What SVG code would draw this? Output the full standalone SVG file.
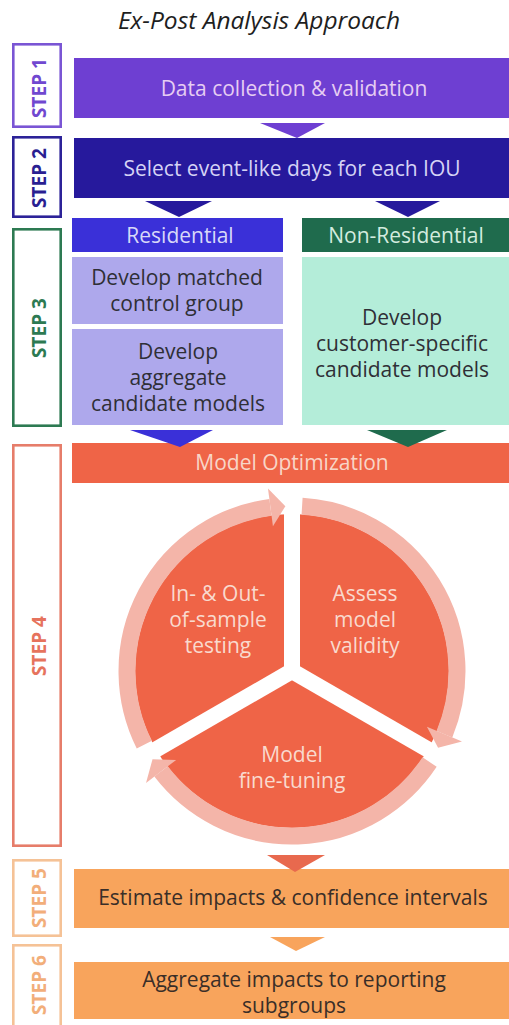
<svg xmlns="http://www.w3.org/2000/svg" width="509" height="1025" viewBox="0 0 509 1025">
<style>
text{font-family:"Open Sans","Noto Sans","DejaVu Sans",sans-serif;font-size:21px;text-anchor:middle}
.title{font-style:italic;font-size:24.5px;fill:#1e1e1e}
.lbl{fill:#fff;stroke-width:2.6}
.lt{font-weight:bold;font-size:19px}
.dark{fill:#2f2f36}
.ring{fill:none;stroke:#F4B5A9;stroke-width:17;stroke-linecap:butt}
.slit{stroke:#fff;stroke-width:16;stroke-linecap:butt}
.ct{fill:#F9DACE}
</style>
<rect width="509" height="1025" fill="#fff"/>
<g id="title"><text class="title" x="259" y="29">Ex-Post Analysis Approach</text></g>

<g id="step1-label"><rect class="lbl" x="13.3" y="44.3" width="47.4" height="82.4" stroke="#7A55D4"/><text class="lt" transform="translate(45.5,88) rotate(-90)" fill="#7048D0">STEP 1</text></g>
<g id="step2-label"><rect class="lbl" x="13.3" y="137.3" width="47.4" height="79.4" stroke="#2C2298"/><text class="lt" transform="translate(45.5,178) rotate(-90)" fill="#2A1F92">STEP 2</text></g>
<g id="step3-label"><rect class="lbl" x="13.3" y="229.3" width="47.4" height="196.4" stroke="#2D7A52"/><text class="lt" transform="translate(45.5,328) rotate(-90)" fill="#2D7A52">STEP 3</text></g>
<g id="step4-label"><rect class="lbl" x="13.3" y="445.3" width="47.4" height="400.4" stroke="#E67D6A"/><text class="lt" transform="translate(45.5,646) rotate(-90)" fill="#E6735D">STEP 4</text></g>
<g id="step5-label"><rect class="lbl" x="13.3" y="860.3" width="47.4" height="75.4" stroke="#F5C296"/><text class="lt" transform="translate(45.5,898) rotate(-90)" fill="#F2AE7A">STEP 5</text></g>
<g id="step6-label"><rect class="lbl" x="13.3" y="945.3" width="47.4" height="85" stroke="#F5C296"/><text class="lt" transform="translate(45.5,985) rotate(-90)" fill="#F2AE7A">STEP 6</text></g>

<g id="step1"><rect x="74" y="58" width="435" height="60" fill="#6E3FD2"/><text x="294" y="96" fill="#E6CDF2">Data collection &amp; validation</text></g>
<g id="step2"><rect x="74" y="138" width="435" height="60" fill="#26199C"/><text x="292" y="176" fill="#D5D3F5">Select event-like days for each IOU</text></g>
<g id="residential"><rect x="72" y="218" width="211" height="34" fill="#3A30D8"/><text x="180" y="243" fill="#D8D8F8">Residential</text></g>
<g id="non-residential"><rect x="302" y="218" width="207" height="34" fill="#1F6B4D"/><text x="406" y="243" fill="#D3EBDF">Non-Residential</text></g>
<g id="matched-control"><rect x="72" y="257" width="211" height="67" fill="#AEA8EC"/><text class="dark" x="177" y="285">Develop matched</text><text class="dark" x="177" y="311">control group</text></g>
<g id="aggregate-models"><rect x="72" y="329" width="211" height="96" fill="#AEA8EC"/><text class="dark" x="178" y="359">Develop</text><text class="dark" x="178" y="385">aggregate</text><text class="dark" x="178" y="411">candidate models</text></g>
<g id="customer-models"><rect x="302" y="257" width="207" height="168" fill="#B4EDD9"/><text class="dark" x="402" y="325">Develop</text><text class="dark" x="402" y="351">customer-specific</text><text class="dark" x="402" y="377">candidate models</text></g>
<g id="model-optimization"><rect x="72" y="443" width="437" height="40" fill="#EF6447"/><text x="292" y="470" fill="#F8D6C8">Model Optimization</text></g>

<g id="cycle-segments">
<circle cx="292" cy="671" r="157" fill="#EF6447"/>
<line class="slit" x1="292" y1="671" x2="292" y2="509"/>
<line class="slit" x1="292" y1="671" x2="432.3" y2="752"/>
<line class="slit" x1="292" y1="671" x2="151.7" y2="752"/>
</g>
<g id="testing"><text class="ct" x="218" y="601">In- &amp; Out-</text><text class="ct" x="218" y="627">of-sample</text><text class="ct" x="218" y="653">testing</text></g>
<g id="validity"><text class="ct" x="365" y="601">Assess</text><text class="ct" x="365" y="627">model</text><text class="ct" x="365" y="653">validity</text></g>
<g id="fine-tuning"><text class="ct" x="292" y="762">Model</text><text class="ct" x="292" y="788">fine-tuning</text></g>

<g id="step5"><rect x="74" y="869" width="435" height="59" fill="#F8A45C"/><text x="293" y="905" fill="#3A2E28">Estimate impacts &amp; confidence intervals</text></g>
<g id="step6"><rect x="74" y="962" width="435" height="57" fill="#F8A45C"/><text x="294" y="987" fill="#3A2E28">Aggregate impacts to reporting</text><text x="294" y="1013" fill="#3A2E28">subgroups</text></g>

<g id="connectors">
<polygon points="260,123 325,123 297,138" fill="#6E3FD2"/>
<polygon points="145,201 212,201 179,217" fill="#26199C"/>
<polygon points="375,201 440,201 408,217" fill="#26199C"/>
<polygon points="130,430 213,430 180,447" fill="#3A30D8"/>
<polygon points="367,430 447,430 408,447" fill="#1F6B4D"/>
<path class="ring" d="M144.34,744.62 A165,165 0 0 1 270.47,507.42"/>
<polygon points="272.95,526.25 267.99,488.58 285.38,506.13" fill="#F4B5A9"/>
<path class="ring" d="M302.07,506.31 A165,165 0 0 1 444.44,734.14"/>
<polygon points="426.89,726.87 462,741.41 438.09,747.69" fill="#F4B5A9"/>
<path class="ring" d="M429.59,762.06 A165,165 0 0 1 161.09,771.45"/>
<polygon points="176.16,759.88 146.01,783.02 152.53,759.18" fill="#F4B5A9"/>
<polygon points="267,855 325,855 295,872" fill="#E8694E"/>
<polygon points="270,937 325,937 296,951" fill="#F8A45C"/>
</g>
</svg>
